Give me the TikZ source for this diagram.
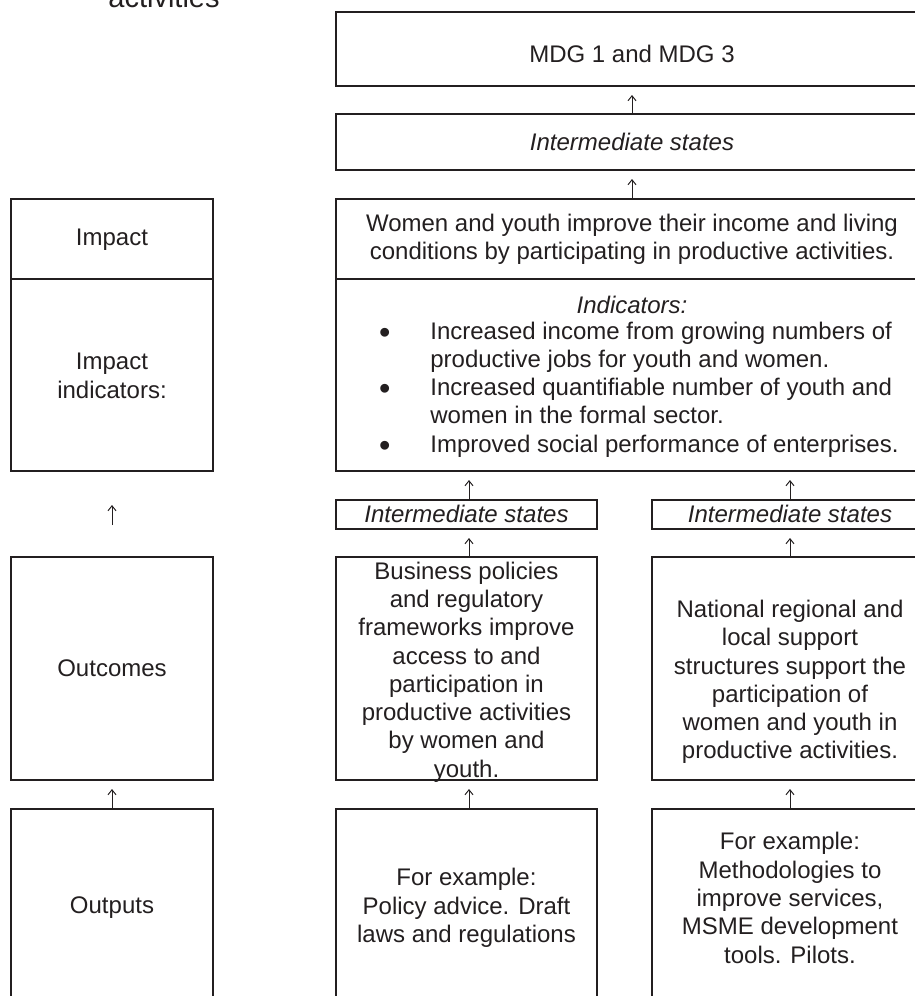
\documentclass[tikz,border=0pt]{standalone}
\usepackage{fontspec}
\setmainfont{Liberation Sans}
\usetikzlibrary{fit,arrows.meta}
\definecolor{ink}{RGB}{35,31,32}
\newcommand{\listdot}{\raisebox{-2pt}{\scalebox{1.35}{\textbullet}}}
\begin{document}
\begin{tikzpicture}[x=0.5pt,y=-0.5pt,
  box/.style={draw=ink, line width=1pt, inner sep=0pt},
  lbl/.style={text=ink, inner sep=0pt, align=center, font=\fontsize{12}{14.15}\selectfont},
  ilbl/.style={lbl, font=\fontsize{12}{14.15}\selectfont\itshape},
  up/.style={draw=ink, line width=0.5pt, -{Straight Barb[length=2.5pt,width=4pt]}, shorten >=4pt},
]
\useasboundingbox (0,0) rectangle (915,996);
\clip (0,0) rectangle (915,996);

% heading line, cut by the top edge
\node[lbl, font=\fontsize{14.5}{17}\selectfont, anchor=base] (title) at (164,7) {activities};

% left column: levels
\node[box, fit={(11,199) (213,279)}] (impL) {};
\node[box, fit={(11,279) (213,471)}] (indL) {};
\node[box, fit={(11,557) (213,780)}] (outcL) {};
\node[box, fit={(11,809) (213,1040)}] (outpL) {};
\node[lbl] (tImpL) at (112,240) {Impact};
\node[lbl] (tIndL) at (112,376) {Impact\\indicators:};
\node[lbl] (tOutcL) at (112,668) {Outcomes};
\node[lbl] (tOutpL) at (112,908) {Outputs};

% wide column
\node[box, fit={(336,12) (928,86)}] (mdg) {};
\node[box, fit={(336,114) (928,170)}] (isTop) {};
\node[box, fit={(336,199) (928,279)}] (impact) {};
\node[box, fit={(336,279) (928,471)}] (indic) {};
\node[lbl] (tMdg) at (632,54) {MDG 1 and MDG 3};
\node[ilbl] (tIsTop) at (632,142) {Intermediate states};
\node[lbl] (tImpact) at (632,239) {Women and youth improve their income and living\\conditions by participating in productive activities.};
\node[ilbl] (tIndHead) at (632,305) {Indicators:};
\node[lbl, anchor=west, align=left] (tIndList) at (378.8,390) {%
  \begin{tabular}{@{}l@{\hspace{19.9pt}}l@{}}
  \listdot & Increased income from growing numbers of\\
           & productive jobs for youth and women.\\
  \listdot & Increased quantifiable number of youth and\\
           & women in the formal sector.\\
  \listdot & Improved social performance of enterprises.
  \end{tabular}};

% two result chains
\node[box, fit={(336,500) (597,529)}] (isA) {};
\node[box, fit={(652,500) (928,529)}] (isB) {};
\node[ilbl] (tIsA) at (466.5,514) {Intermediate states};
\node[ilbl] (tIsB) at (790,514) {Intermediate states};

\node[box, fit={(336,557) (597,780)}] (outcA) {};
\node[box, fit={(652,557) (928,780)}] (outcB) {};
\node[lbl] (tOutcA) at (466.5,672) {Business policies\\and regulatory\\frameworks improve\\access to and\\participation in\\productive activities\\by women and\\youth.};
\node[lbl] (tOutcB) at (790,682) {National regional and\\local support\\structures support the\\participation of\\women and youth in\\productive activities.};

\node[box, fit={(336,809) (597,1040)}] (outpA) {};
\node[box, fit={(652,809) (928,1040)}] (outpB) {};
\node[lbl] (tOutpA) at (466.5,908) {For example:\\Policy advice. Draft\\laws and regulations};
\node[lbl] (tOutpB) at (790,898) {For example:\\Methodologies to\\improve services,\\MSME development\\tools. Pilots.};

% upward links
\draw[up] (isTop.north) -- (mdg.south);
\draw[up] (impact.north) -- (isTop.south);
\draw[up] (isA.north -| 469,0) -- (indic.south -| 469,0);
\draw[up] (isB.north) -- (isB.north |- indic.south);
\draw[up] (outcA.north -| 469,0) -- (isA.south -| 469,0);
\draw[up] (outcB.north) -- (isB.south);
\draw[up] (outpA.north -| 469,0) -- (outcA.south -| 469,0);
\draw[up] (outpB.north) -- (outcB.south);
\draw[up, shorten <=15.5pt, shorten >=16.5pt] (outcL.north) -- (indL.south);
\draw[up] (outpL.north) -- (outcL.south);
\end{tikzpicture}
\end{document}
